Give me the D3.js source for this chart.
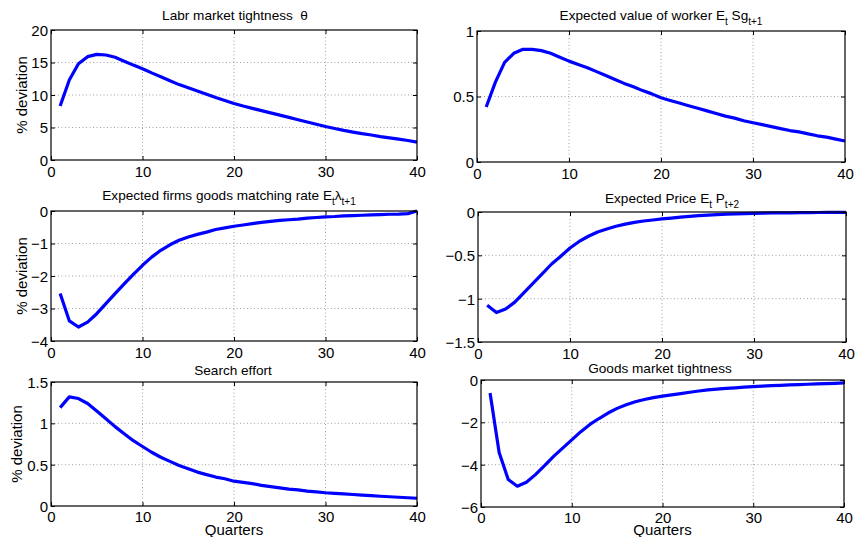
<!DOCTYPE html>
<html>
<head>
<meta charset="utf-8">
<script src="https://d3js.org/d3.v7.min.js"></script>
<style>
  body { margin: 0; background: #fff; }
  svg { display: block; font-family: "Liberation Sans", Arial, Helvetica, sans-serif; }
  .grid line { stroke: #8a8a8a; stroke-width: 0.8; stroke-dasharray: 1,2.5; }
  .tick-label { font-size: 15px; fill: #000; }
  .title { font-size: 13.6px; fill: #000; white-space: pre; }
  .label { font-size: 15px; fill: #000; }
</style>
</head>
<body>
<svg width="856" height="537"></svg>
<script>
'use strict';

// 四半期
var quarters = [1, 2, 3, 4, 5, 6, 7, 8, 9, 10, 11, 12, 13, 14, 15, 16, 17, 18, 19, 20,
  21, 22, 23, 24, 25, 26, 27, 28, 29, 30, 31, 32, 33, 34, 35, 36, 37, 38, 39, 40];

// 各系列 (% deviation)
var theta = [8.3, 12.3, 14.8, 15.9, 16.25, 16.15, 15.8, 15.2, 14.6, 14.05,
  13.4, 12.8, 12.2, 11.6, 11.1, 10.6, 10.1, 9.6, 9.15, 8.7,
  8.3, 7.95, 7.6, 7.25, 6.9, 6.55, 6.2, 5.85, 5.5, 5.15,
  4.85, 4.55, 4.3, 4.05, 3.85, 3.6, 3.4, 3.2, 3.0, 2.75];
var workerValue = [0.42, 0.61, 0.76, 0.83, 0.86, 0.86, 0.85, 0.83, 0.80, 0.77,
  0.745, 0.72, 0.69, 0.66, 0.63, 0.60, 0.575, 0.545, 0.52, 0.49,
  0.47, 0.45, 0.43, 0.41, 0.39, 0.37, 0.35, 0.335, 0.315, 0.30,
  0.285, 0.27, 0.255, 0.24, 0.23, 0.215, 0.20, 0.19, 0.175, 0.16];
var matchRate = [-2.54, -3.38, -3.57, -3.42, -3.16, -2.85, -2.54, -2.24, -1.95, -1.67,
  -1.42, -1.21, -1.04, -0.90, -0.80, -0.72, -0.65, -0.57, -0.52, -0.47,
  -0.43, -0.39, -0.35, -0.32, -0.29, -0.27, -0.25, -0.22, -0.20, -0.18,
  -0.17, -0.15, -0.14, -0.13, -0.12, -0.11, -0.10, -0.095, -0.08, 0];
var price = [-1.077, -1.16, -1.12, -1.04, -0.93, -0.82, -0.71, -0.60, -0.51, -0.415,
  -0.34, -0.28, -0.23, -0.196, -0.165, -0.14, -0.12, -0.104, -0.092, -0.08,
  -0.07, -0.06, -0.05, -0.042, -0.035, -0.03, -0.025, -0.021, -0.018, -0.015,
  -0.013, -0.011, -0.01, -0.009, -0.008, -0.007, -0.006, -0.005, -0.005, -0.004];
var searchEffort = [1.19, 1.32, 1.30, 1.24, 1.15, 1.056, 0.96, 0.875, 0.79, 0.72,
  0.65, 0.59, 0.54, 0.49, 0.45, 0.41, 0.38, 0.35, 0.33, 0.30,
  0.285, 0.27, 0.25, 0.235, 0.22, 0.205, 0.195, 0.18, 0.17, 0.16,
  0.153, 0.146, 0.139, 0.132, 0.125, 0.118, 0.112, 0.106, 0.1, 0.094];
var goodsTightness = [-0.61, -3.43, -4.70, -5.02, -4.83, -4.47, -4.05, -3.61, -3.22, -2.83,
  -2.44, -2.1, -1.82, -1.56, -1.34, -1.17, -1.03, -0.92, -0.83, -0.76,
  -0.7, -0.64, -0.58, -0.52, -0.47, -0.43, -0.40, -0.37, -0.34, -0.31,
  -0.29, -0.27, -0.25, -0.235, -0.22, -0.2, -0.185, -0.17, -0.155, -0.14];

// 目盛り
var xTicks = [0, 10, 20, 30, 40];
var thetaTicks = [0, 5, 10, 15, 20];
var workerTicks = [0, 0.5, 1];
var matchTicks = [-4, -3, -2, -1, 0];
var priceTicks = [-1.5, -1, -0.5, 0];
var searchTicks = [0, 0.5, 1, 1.5];
var goodsTicks = [-6, -4, -2, 0];

// タイトル (subscriptは配列の2番目)
var titles = [
  [['Labr market tightness  \u03b8', false]],
  [['Expected value of worker E', false], ['t', true], [' Sg', false], ['t+1', true]],
  [['Expected firms goods matching rate E', false], ['t', true], ['\u03bb', false], ['t+1', true]],
  [['Expected Price E', false], ['t', true], [' P', false], ['t+2', true]],
  [['Search effort', false]],
  [['Goods market tightness', false]]
];

// パネル配置
var panels = [
  { values: theta, ticks: thetaTicks, box: [51, 30, 417, 160], titleY: 20, titleX: 235, ylabel: 27, xlabel: false },
  { values: workerValue, ticks: workerTicks, box: [477, 31, 845, 162], titleY: 20, titleX: 661, ylabel: null, xlabel: false },
  { values: matchRate, ticks: matchTicks, box: [51, 211, 417, 341], titleY: 200, titleX: 229, ylabel: 27, xlabel: false },
  { values: price, ticks: priceTicks, box: [478, 212, 846, 342], titleY: 203, titleX: 672, ylabel: null, xlabel: false },
  { values: searchEffort, ticks: searchTicks, box: [51, 382, 417, 506], titleY: 375, titleX: 233, ylabel: 22, xlabel: true },
  { values: goodsTightness, ticks: goodsTicks, box: [481, 380, 844, 507], titleY: 373, titleX: 660, ylabel: null, xlabel: true }
];

var svg = d3.select('svg');
var fmt = d3.format('~g');
var tickLen = 4;

panels.forEach(function(p, i) {
  var x0 = p.box[0], y0 = p.box[1], x1 = p.box[2], y1 = p.box[3];
  var ticks = p.ticks;

  var xScale = d3.scaleLinear().domain([0, 40]).range([x0, x1]);
  var yScale = d3.scaleLinear()
      .domain([ticks[0], ticks[ticks.length - 1]])
      .range([y1, y0]);

  var g = svg.append('g').attr('class', 'panel');

  // グリッド
  var grid = g.append('g').attr('class', 'grid');
  grid.selectAll('.gx')
      .data(xTicks.slice(1, -1))
      .enter()
      .append('line')
      .attr('x1', function(d) { return xScale(d); })
      .attr('x2', function(d) { return xScale(d); })
      .attr('y1', y0)
      .attr('y2', y1);
  grid.selectAll('.gy')
      .data(ticks.slice(1, -1))
      .enter()
      .append('line')
      .attr('x1', x0)
      .attr('x2', x1)
      .attr('y1', function(d) { return yScale(d); })
      .attr('y2', function(d) { return yScale(d); });

  // 線
  var line = d3.line()
      .x(function(d, k) { return xScale(quarters[k]); })
      .y(function(d) { return yScale(d); });

  g.append('path')
      .datum(p.values)
      .attr('d', line)
      .attr('fill', 'none')
      .attr('stroke', '#0000ff')
      .attr('stroke-width', 3.2)
      .attr('stroke-linejoin', 'round');

  // 軸
  var axisBottom = d3.axisBottom(xScale).tickValues(xTicks).tickSizeInner(-tickLen).tickSizeOuter(0).tickFormat(fmt);
  var axisTop = d3.axisTop(xScale).tickValues(xTicks).tickSizeInner(-tickLen).tickSizeOuter(0).tickFormat('');
  var axisLeft = d3.axisLeft(yScale).tickValues(ticks).tickSizeInner(-tickLen).tickSizeOuter(0).tickFormat(fmt);
  var axisRight = d3.axisRight(yScale).tickValues(ticks).tickSizeInner(-tickLen).tickSizeOuter(0).tickFormat('');

  function styleAxis(sel) {
    sel.select('.domain').remove();
    sel.selectAll('line').attr('stroke', '#000');
    sel.selectAll('text')
        .attr('class', 'tick-label')
        .attr('font-size', null)
        .attr('font-family', null)
        .attr('fill', '#000');
  }

  g.append('g')
      .attr('transform', 'translate(0,' + y1 + ')')
      .call(axisBottom)
      .call(styleAxis)
      .selectAll('text')
      .attr('y', p.xlabel ? 16 : 17)
      .attr('dy', null);
  g.append('g')
      .attr('transform', 'translate(0,' + y0 + ')')
      .call(axisTop)
      .call(styleAxis);
  g.append('g')
      .attr('transform', 'translate(' + x0 + ',0)')
      .call(axisLeft)
      .call(styleAxis)
      .selectAll('text')
      .attr('x', -3)
      .attr('dy', '0.36em');
  g.append('g')
      .attr('transform', 'translate(' + x1 + ',0)')
      .call(axisRight)
      .call(styleAxis);

  // 枠
  g.append('rect')
      .attr('x', x0)
      .attr('y', y0)
      .attr('width', x1 - x0)
      .attr('height', y1 - y0)
      .attr('fill', 'none')
      .attr('stroke', '#000')
      .attr('stroke-width', 1.2);

  // タイトル
  var title = g.append('text')
      .attr('class', 'title')
      .attr('x', p.titleX)
      .attr('y', p.titleY)
      .attr('text-anchor', 'middle');
  var shift = 0;
  titles[i].forEach(function(part) {
    var dy = part[1] ? 5 - shift : -shift;
    shift = part[1] ? 5 : 0;
    title.append('tspan')
        .attr('dy', dy)
        .attr('font-size', part[1] ? '10px' : null)
        .text(part[0]);
  });

  // y軸ラベル
  if (p.ylabel !== null) {
    g.append('text')
        .attr('class', 'label')
        .attr('text-anchor', 'middle')
        .attr('transform', 'translate(' + p.ylabel + ',' + (y0 + y1) / 2 + ') rotate(-90)')
        .text('% deviation');
  }

  // x軸ラベル
  if (p.xlabel) {
    g.append('text')
        .attr('class', 'label')
        .attr('text-anchor', 'middle')
        .attr('x', (x0 + x1) / 2)
        .attr('y', 535)
        .text('Quarters');
  }
});
</script>
</body>
</html>
